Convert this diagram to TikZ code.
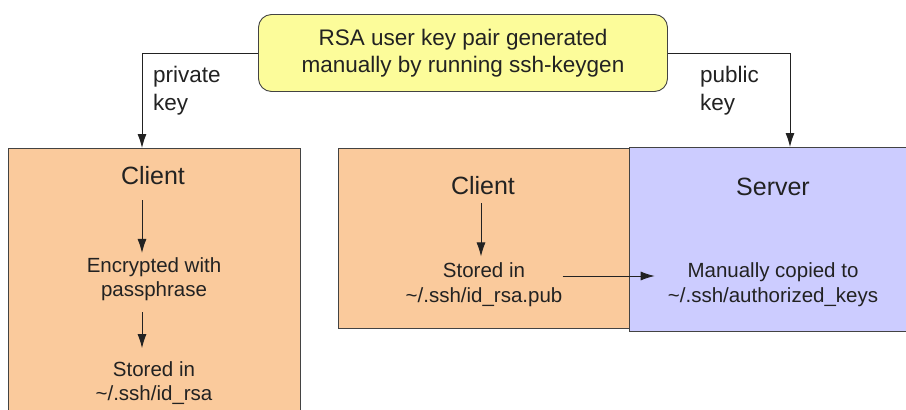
\documentclass[tikz,border=0pt]{standalone}
\usepackage{fontspec}
\setmainfont{Liberation Sans}
\usetikzlibrary{arrows.meta}
\definecolor{ybox}{HTML}{FCFC9A}
\definecolor{obox}{HTML}{FACA9C}
\definecolor{pbox}{HTML}{CCCCFF}
\definecolor{ink}{HTML}{222222}
\begin{document}
\begin{tikzpicture}[x=1pt,y=-1pt,
 arr/.style={-{Latex[length=14pt,width=9pt]}, line width=0.9pt, draw=ink},
 box/.style={draw=ink!85, line width=0.9pt, inner sep=0pt, anchor=north west},
 small/.style={font=\fontsize{20.5}{24.5}\selectfont, align=center, inner sep=0pt, text=ink},
 big/.style={font=\fontsize{25}{30}\selectfont, inner sep=0pt, text=ink},
 lbl/.style={font=\fontsize{22.5}{28}\selectfont, align=left, inner sep=0pt, text=ink, anchor=west}]
\useasboundingbox (0,0) rectangle (906,410);
\clip (0,0) rectangle (906,410);
\fill[white] (0,0) rectangle (906,410);
% boxes
\node[box, fill=obox, minimum width=292pt, minimum height=280pt] (lbox) at (8,148) {};
\node[box, fill=obox, minimum width=291pt, minimum height=180pt] (mbox) at (338,148) {};
\node[box, fill=pbox, minimum width=300pt, minimum height=184pt] (sbox) at (629,147) {};
\node[draw=ink!85, line width=0.9pt, fill=ybox, rounded corners=13pt, minimum width=409pt, minimum height=77pt,
  font=\fontsize{22.5}{27}\selectfont, align=center, text=ink, inner sep=0pt] (gen) at (463,53)
  {RSA user key pair generated\\manually by running ssh-keygen};
% labels
\node[lbl] (lpriv) at (153,91) {private\\key};
\node[lbl] (lpub) at (700,91) {public\\key};
% left client
\node[big] (lclient) at (153,176) {Client};
\node[small] (lenc) at (154,279) {Encrypted with\\passphrase};
\node[small] (lstore) at (154,383) {Stored in\\\textasciitilde/.ssh/id\_rsa};
% middle client
\node[big] (mclient) at (483,186) {Client};
\node[small] (mstore) at (484,284.5) {Stored in\\\textasciitilde/.ssh/id\_rsa.pub};
% server
\node[big] (server) at (773,187) {Server};
\node[small] (scopy) at (773,284.5) {Manually copied to\\\textasciitilde/.ssh/authorized\_keys};
% coordinates for connector x / y positions
\coordinate (pl) at (142,0);
\coordinate (pr) at (790,0);
\coordinate (ml) at (481,0);
\coordinate (hy) at (0,276);
% connectors
\draw[arr] (gen.west) -| (lbox.north -| pl);
\draw[arr] (gen.east) -| (sbox.north -| pr);
\draw[arr, shorten <=15pt, shorten >=4pt] (lclient.south -| pl) -- (lenc.north -| pl);
\draw[arr, shorten <=11pt, shorten >=13pt] (lenc.south -| pl) -- (lstore.north -| pl);
\draw[arr, shorten <=8pt, shorten >=6pt] (mclient.south -| ml) -- (mstore.north -| ml);
\draw[arr, shorten >=13pt] (mstore.east |- hy) -- (scopy.west |- hy);
\end{tikzpicture}
\end{document}
